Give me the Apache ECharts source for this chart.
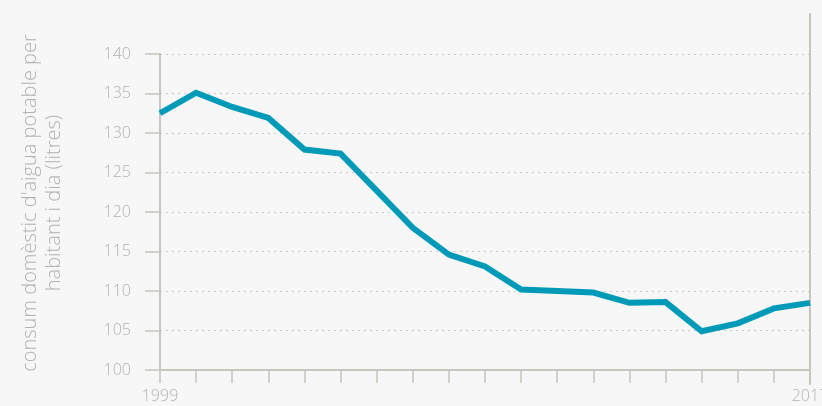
<!DOCTYPE html>
<html>
<head>
<meta charset="utf-8">
<script src="https://cdn.jsdelivr.net/npm/echarts@6/dist/echarts.min.js"></script>
<style>
  html, body { margin: 0; padding: 0; background: #f7f7f7; }
  #chart { width: 822px; height: 406px; }
</style>
</head>
<body>
<div id="chart"></div>
<script>
// Domestic drinking-water consumption per inhabitant and day (litres)
const years = ['1999', '2000', '2001', '2002', '2003', '2004', '2005', '2006', '2007', '2008',
               '2009', '2010', '2011', '2012', '2013', '2014', '2015', '2016', '2017'];
const litres = [132.5, 135.1, 133.3, 131.9, 127.9, 127.4, 122.7, 118.0, 114.6, 113.1,
                110.2, 110.0, 109.8, 108.5, 108.6, 104.9, 105.9, 107.8, 108.5];
const shownYearLabels = ['1999', '2017'];
const yAxisTitle = "consum domèstic d'aigua potable per\nhabitant i dia (litres)";

const axisGrey = '#c6c6be';
const textGrey = '#b2b2b2';
const fontFamily = '"Open Sans", "DejaVu Sans", sans-serif';

const chart = echarts.init(document.getElementById('chart'), null, { renderer: 'canvas' });

chart.setOption({
  backgroundColor: '#f7f7f7',
  animation: false,
  grid: [
    { left: 160, right: 12, top: 54, bottom: 36, outerBoundsMode: 'none', containLabel: false },
    // thin frame on the right-hand edge
    { left: 810, width: 1, top: 14, bottom: 22, outerBoundsMode: 'none', containLabel: false }
  ],
  xAxis: [
    {
      type: 'category',
      data: years,
      boundaryGap: false,
      axisLine: { lineStyle: { color: axisGrey, width: 2 } },
      axisTick: { length: 13, lineStyle: { color: axisGrey, width: 1.5 } },
      axisLabel: {
        interval: 0,
        formatter: v => shownYearLabels.includes(v) ? v : '',
        color: textGrey,
        fontFamily,
        fontWeight: 300,
        fontSize: 16,
        margin: 18,
        hideOverlap: false
      },
      splitLine: { show: false }
    },
    { gridIndex: 1, type: 'value', show: false }
  ],
  yAxis: [
    {
      type: 'value',
      min: 100,
      max: 140,
      interval: 5,
      name: yAxisTitle,
      nameLocation: 'middle',
      nameGap: 94,
      nameTextStyle: {
        color: textGrey,
        fontFamily,
        fontWeight: 300,
        fontSize: 20,
        lineHeight: 24,
        align: 'center',
        padding: [0, 0, 0, 18]
      },
      axisLine: { show: true, lineStyle: { color: axisGrey, width: 2 } },
      axisTick: { show: true, inside: false, length: 15, lineStyle: { color: axisGrey, width: 1.5 } },
      axisLabel: {
        color: textGrey,
        fontFamily,
        fontWeight: 300,
        fontSize: 16,
        margin: 29
      },
      splitLine: {
        show: true,
        lineStyle: { color: '#c9c9c9', type: [2, 4], width: 1.2 }
      }
    },
    {
      gridIndex: 1,
      type: 'value',
      min: 0,
      max: 1,
      axisLine: { show: true, lineStyle: { color: axisGrey, width: 2 } },
      axisTick: { show: false },
      axisLabel: { show: false },
      splitLine: { show: false }
    }
  ],
  series: [
    {
      type: 'line',
      data: litres,
      symbol: 'none',
      lineStyle: { color: '#009ab9', width: 6, join: 'miter' },
      z: 5
    }
  ]
});
</script>
</body>
</html>
